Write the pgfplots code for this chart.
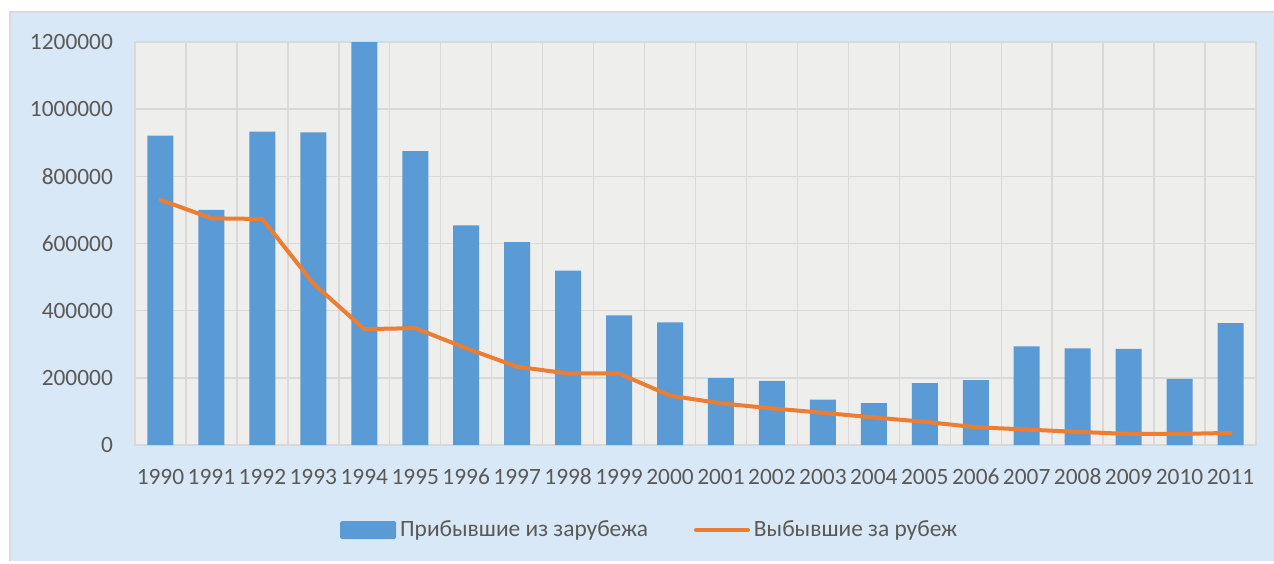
\documentclass[border=0pt]{standalone}
\usepackage{fontspec}
\setmainfont{Carlito}
\usepackage{pgfplots}
\pgfplotsset{compat=1.18}
\definecolor{barblue}{HTML}{5B9BD5}
\definecolor{lineorange}{HTML}{ED7D31}
\definecolor{txt}{HTML}{595959}
\definecolor{outerbg}{HTML}{D9E8F6}
\definecolor{plotbg}{HTML}{EEEEEC}
\definecolor{gridc}{HTML}{D9D9D9}
\begin{document}
\begin{tikzpicture}
\path[use as bounding box, fill=white] (-67.5pt,-59pt) rectangle (569.5pt,222.5pt);
\fill[outerbg] (-62.5pt,-58pt) rectangle (569.5pt,216.5pt);
\draw[gridc, line width=0.6pt] (-62.5pt,-58pt) -- (-62.5pt,216.5pt) -- (569.5pt,216.5pt);
\begin{axis}[
  scale only axis,
  width=560.5pt, height=201.5pt,
  xmin=-0.5, xmax=21.5,
  ymin=0, ymax=1200000,
  ytick={0,200000,...,1200000},
  xtick={0,...,21},
  xticklabels={1990,1991,1992,1993,1994,1995,1996,1997,1998,1999,2000,2001,2002,2003,2004,2005,2006,2007,2008,2009,2010,2011},
  minor x tick num=1,
  xminorgrids=true, ymajorgrids=true, xmajorgrids=false,
  grid style={gridc, line width=0.7pt},
  minor grid style={gridc, line width=0.7pt},
  major tick length=0pt, minor tick length=0pt,
  axis background/.style={fill=plotbg},
  axis line style={draw=gridc, line width=0.7pt},
  scaled y ticks=false,
  /pgf/number format/assume math mode=true,
  yticklabel style={/pgf/number format/fixed, /pgf/number format/1000 sep={}, xshift=-7.5pt},
  xticklabel style={anchor=north, text height=7.4pt, text depth=0pt, yshift=-9pt},
  tick label style={font=\fontsize{11.7}{14}\selectfont, text=txt},
  legend style={at={(0.46,-0.211)}, anchor=center, draw=none, fill=none,
    font=\fontsize{11.7}{14}\selectfont, text=txt,
    /tikz/every even column/.append style={column sep=21pt},
    /tikz/every odd column/.append style={column sep=0pt}},
  legend columns=2,
  legend cell align=left,
]
\addplot[ybar, bar width=13pt, fill=barblue, draw=none,
  legend image code/.code={\fill[barblue, rounded corners=0.8pt] (0pt,-4.5pt) rectangle (28pt,4.5pt);}]
  coordinates {
  (0,921000) (1,700000) (2,933000) (3,931000) (4,1201000) (5,875000)
  (6,654000) (7,604000) (8,519000) (9,386000) (10,365000) (11,199500)
  (12,190600) (13,135000) (14,125000) (15,184000) (16,193000) (17,294000)
  (18,288000) (19,286000) (20,197000) (21,363000)};
\addlegendentry{Прибывшие из зарубежа}
\addplot[lineorange, line width=2pt, line join=round, line cap=round, mark=none,
  legend image code/.code={\draw[lineorange, line width=2pt, line cap=round] (1pt,0pt) -- (27pt,0pt);}]
  coordinates {
  (0,730000) (1,675000) (2,673000) (3,481000) (4,345000) (5,348000)
  (6,288000) (7,233000) (8,213000) (9,213000) (10,147000) (11,124000)
  (12,109000) (13,96000) (14,82000) (15,69000) (16,53000) (17,46000)
  (18,39000) (19,33000) (20,33000) (21,36000)};
\addlegendentry{Выбывшие за рубеж}
\end{axis}
\end{tikzpicture}
\end{document}
